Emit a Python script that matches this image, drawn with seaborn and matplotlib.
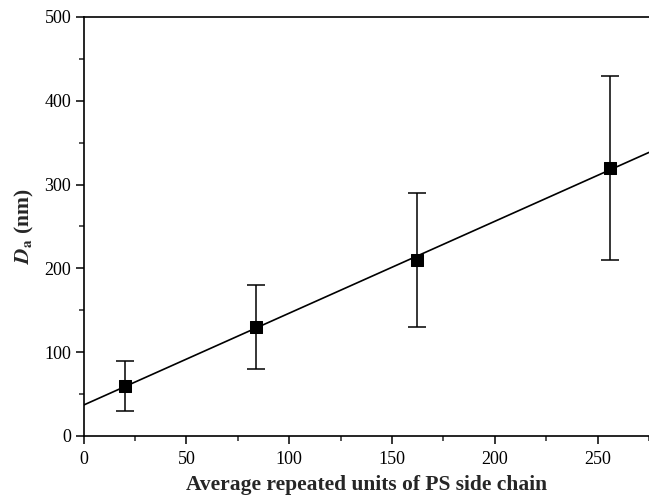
import matplotlib
matplotlib.use("Agg")
import matplotlib.pyplot as plt
import numpy as np
import pandas as pd
import seaborn as sns
from matplotlib.ticker import MultipleLocator

# data
repeat_units = [20, 84, 162, 256]
diameter = [60, 130, 210, 320]
err_low = [30, 50, 80, 110]
err_high = [30, 50, 80, 110]

sns.set_theme(style="ticks")
plt.rcParams["font.family"] = ["Liberation Serif", "DejaVu Serif"]
plt.rcParams["mathtext.fontset"] = "stix"

df = pd.DataFrame({"x": repeat_units, "y": diameter})

fig = plt.figure(figsize=(6.49, 4.98), dpi=100)
ax = fig.add_axes([0.129, 0.1245, 0.871, 0.8415])
ax.set_xlim(0, 275)
ax.set_ylim(0, 500)

sns.regplot(data=df, x="x", y="y", ax=ax, ci=None, truncate=False,
            scatter=False, line_kws={"color": "black", "lw": 1.2})
ax.errorbar(repeat_units, diameter, yerr=[err_low, err_high], fmt="none",
            ecolor="black", elinewidth=1.1, capsize=6.5, capthick=1.1)
sns.scatterplot(data=df, x="x", y="y", ax=ax, marker="s", s=85,
                color="black", edgecolor="black", zorder=5)

ax.set_xlim(0, 275)
ax.set_ylim(0, 500)
ax.xaxis.set_major_locator(MultipleLocator(50))
ax.xaxis.set_minor_locator(MultipleLocator(25))
ax.yaxis.set_major_locator(MultipleLocator(100))
ax.yaxis.set_minor_locator(MultipleLocator(50))
ax.tick_params(which="major", direction="out", length=6, width=1.1,
               labelsize=13, colors="black")
ax.tick_params(axis="x", which="major", pad=5)
ax.tick_params(axis="y", which="major", pad=3)
ax.tick_params(which="minor", direction="out", length=3.5, width=1.1)

ax.spines["right"].set_visible(False)
for s in ["left", "top", "bottom"]:
    ax.spines[s].set_linewidth(1.2)
    ax.spines[s].set_color("black")

ax.set_xlabel("Average repeated units of PS side chain", fontsize=15.5,
              fontweight="bold", labelpad=5)
ax.set_ylabel(r"$\mathbfit{D}_{\mathbf{a}}$ (nm)", fontsize=15.5,
              fontweight="bold", labelpad=6)

fig.savefig("out.png", dpi=100)
